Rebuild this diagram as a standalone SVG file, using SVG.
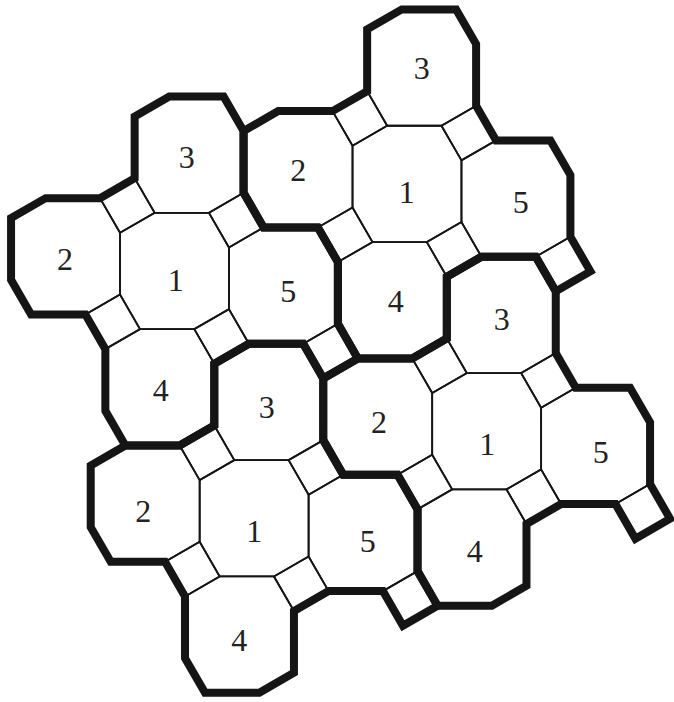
<svg xmlns="http://www.w3.org/2000/svg" width="674" height="702" viewBox="0 0 674 702">
<style>
.thin{fill:none;stroke:#151515;stroke-width:1.8;stroke-linejoin:miter}
.thick{fill:none;stroke:#151515;stroke-width:8;stroke-linejoin:miter;stroke-miterlimit:10}
.lbl{font-family:"Liberation Serif","Times New Roman",serif;font-size:32px;fill:#222;text-anchor:middle}
</style>
<defs>
<path id="oct" d="M0,0 L34.64,-20 L88.94,-20 L108.94,14.64 L108.94,76.34 L74.3,96.34 L20,96.34 L0,61.7 Z"/>
<path id="sq" d="M0,0 L34.64,-20 L54.64,14.64 L20,34.64 Z"/>
<path id="tile" d="M134.64,178.16 L134.64,116.46 L169.28,96.46 L223.58,96.46 L243.58,131.1 L243.58,192.8 L263.58,227.44 L317.88,227.44 L337.88,262.08 L337.88,323.78 L357.88,358.42 L323.24,378.42 L303.24,343.78 L248.94,343.78 L214.3,363.78 L214.3,425.48 L179.66,445.48 L125.36,445.48 L105.36,410.84 L105.36,349.14 L85.36,314.5 L31.06,314.5 L11.06,279.86 L11.06,218.16 L45.7,198.16 L100,198.16 Z"/>
</defs>
<rect width="674" height="702" fill="#fff"/>
<g id="octagons" class="thin">
<g id="oct-3A"><use href="#oct" x="134.64" y="116.46"/><text class="lbl" x="186.7" y="167.8" stroke="none">3</text></g>
<g id="oct-2A"><use href="#oct" x="11.06" y="218.16"/><text class="lbl" x="65" y="270.1" stroke="none">2</text></g>
<g id="oct-1A"><use href="#oct" x="120" y="232.8"/><text class="lbl" x="175.7" y="291.1" stroke="none">1</text></g>
<g id="oct-5A"><use href="#oct" x="228.94" y="247.44"/><text class="lbl" x="288.3" y="301.8" stroke="none">5</text></g>
<g id="oct-4A"><use href="#oct" x="105.36" y="349.14"/><text class="lbl" x="160.7" y="401.1" stroke="none">4</text></g>
<g id="oct-3B"><use href="#oct" x="367.16" y="29.4"/><text class="lbl" x="421.7" y="79.4" stroke="none">3</text></g>
<g id="oct-2B"><use href="#oct" x="243.58" y="131.1"/><text class="lbl" x="298.3" y="181.1" stroke="none">2</text></g>
<g id="oct-1B"><use href="#oct" x="352.52" y="145.74"/><text class="lbl" x="406.7" y="202.8" stroke="none">1</text></g>
<g id="oct-5B"><use href="#oct" x="461.46" y="160.38"/><text class="lbl" x="520.7" y="212.8" stroke="none">5</text></g>
<g id="oct-4B"><use href="#oct" x="337.88" y="262.08"/><text class="lbl" x="395.7" y="311.8" stroke="none">4</text></g>
<g id="oct-3C"><use href="#oct" x="446.82" y="276.72"/><text class="lbl" x="501.7" y="330.1" stroke="none">3</text></g>
<g id="oct-2C"><use href="#oct" x="323.24" y="378.42"/><text class="lbl" x="379" y="433.4" stroke="none">2</text></g>
<g id="oct-1C"><use href="#oct" x="432.18" y="393.06"/><text class="lbl" x="487.3" y="455.1" stroke="none">1</text></g>
<g id="oct-5C"><use href="#oct" x="541.12" y="407.7"/><text class="lbl" x="600.7" y="463.4" stroke="none">5</text></g>
<g id="oct-4C"><use href="#oct" x="417.54" y="509.4"/><text class="lbl" x="474.7" y="562.4" stroke="none">4</text></g>
<g id="oct-3D"><use href="#oct" x="214.3" y="363.78"/><text class="lbl" x="266.7" y="418.4" stroke="none">3</text></g>
<g id="oct-2D"><use href="#oct" x="90.72" y="465.48"/><text class="lbl" x="143.3" y="522.4" stroke="none">2</text></g>
<g id="oct-1D"><use href="#oct" x="199.66" y="480.12"/><text class="lbl" x="254.3" y="542.4" stroke="none">1</text></g>
<g id="oct-5D"><use href="#oct" x="308.6" y="494.76"/><text class="lbl" x="367.7" y="552.4" stroke="none">5</text></g>
<g id="oct-4D"><use href="#oct" x="185.02" y="596.46"/><text class="lbl" x="239.3" y="651.1" stroke="none">4</text></g>
</g>
<g id="squares" class="thin">
<use href="#sq" x="100" y="198.16"/>
<use href="#sq" x="208.94" y="212.8"/>
<use href="#sq" x="194.3" y="329.14"/>
<use href="#sq" x="85.36" y="314.5"/>
<use href="#sq" x="303.24" y="343.78"/>
<use href="#sq" x="332.52" y="111.1"/>
<use href="#sq" x="441.46" y="125.74"/>
<use href="#sq" x="426.82" y="242.08"/>
<use href="#sq" x="317.88" y="227.44"/>
<use href="#sq" x="535.76" y="256.72"/>
<use href="#sq" x="412.18" y="358.42"/>
<use href="#sq" x="521.12" y="373.06"/>
<use href="#sq" x="506.48" y="489.4"/>
<use href="#sq" x="397.54" y="474.76"/>
<use href="#sq" x="615.42" y="504.04"/>
<use href="#sq" x="179.66" y="445.48"/>
<use href="#sq" x="288.6" y="460.12"/>
<use href="#sq" x="273.96" y="576.46"/>
<use href="#sq" x="165.02" y="561.82"/>
<use href="#sq" x="382.9" y="591.1"/>
</g>
<g id="connectors" class="thick">
<use href="#tile"/>
<use href="#tile" transform="translate(232.52,-87.06)"/>
<use href="#tile" transform="translate(312.18,160.26)"/>
<use href="#tile" transform="translate(79.66,247.32)"/>
</g>
</svg>
